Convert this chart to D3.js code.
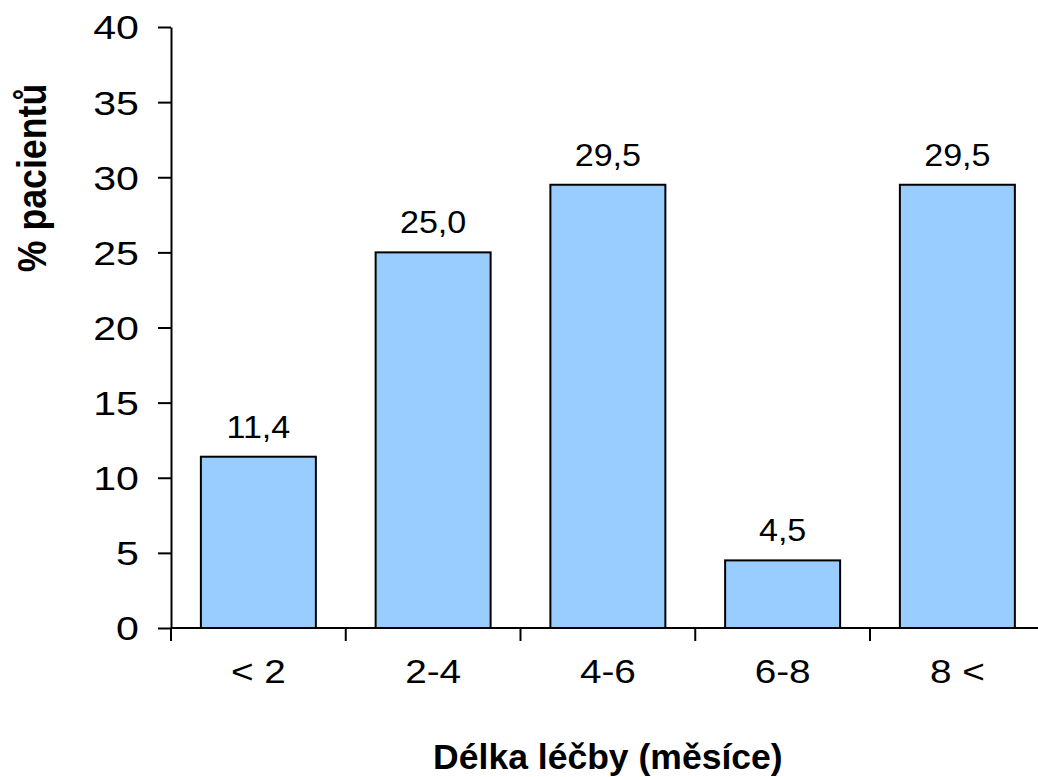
<!DOCTYPE html>
<html>
<head>
<meta charset="utf-8">
<script src="https://cdn.jsdelivr.net/npm/d3@7/dist/d3.min.js"></script>
<style>
  html, body { margin: 0; padding: 0; background: #fff; }
  svg { display: block; }
  text { font-family: "Liberation Sans", Arial, Helvetica, sans-serif; fill: #000; }
</style>
</head>
<body>
<svg id="chart" width="1038" height="777"></svg>
<script>
// Treatment duration groups and share of patients (%)
const categories = ["< 2", "2-4", "4-6", "6-8", "8 <"];
const values = [11.4, 25.0, 29.5, 4.5, 29.5];
const valueLabels = ["11,4", "25,0", "29,5", "4,5", "29,5"];
const yTicks = [0, 5, 10, 15, 20, 25, 30, 35, 40];

const svg = d3.select("#chart");
const plotLeft = 171, plotRight = 1044.75, plotTop = 27, plotBottom = 628;

// Text in this chart uses a slightly wide letterform
const wide = (px, py, sx) => `translate(${px},${py}) scale(${sx},1)`;

const x = d3.scaleBand()
  .domain(categories)
  .range([plotLeft, plotRight])
  .paddingInner(0.342)
  .paddingOuter(0.171);

const y = d3.scaleLinear().domain([0, 40]).range([plotBottom, plotTop]);

// Bars
svg.append("g")
  .selectAll("rect")
  .data(values)
  .join("rect")
  .attr("x", (d, i) => x(categories[i]))
  .attr("y", d => y(d))
  .attr("width", x.bandwidth())
  .attr("height", d => y(0) - y(d))
  .attr("fill", "#99CCFF")
  .attr("stroke", "#000")
  .attr("stroke-width", 2);

// Value labels above bars
svg.append("g")
  .selectAll("text")
  .data(values)
  .join("text")
  .attr("transform", (d, i) => wide(x(categories[i]) + x.bandwidth() / 2, y(d) - 19, 1.1))
  .attr("text-anchor", "middle")
  .attr("font-size", 31)
  .text((d, i) => valueLabels[i]);

// Y axis
const yAxis = svg.append("g")
  .attr("transform", `translate(${plotLeft},0)`)
  .call(d3.axisLeft(y).tickValues(yTicks).tickSize(13).tickSizeOuter(0).tickFormat(d3.format("d")));
yAxis.attr("font-family", null).attr("font-size", null);
yAxis.select(".domain").attr("stroke", "#000").attr("stroke-width", 2);
yAxis.selectAll(".tick line").attr("stroke", "#000").attr("stroke-width", 2);
yAxis.selectAll(".tick text")
  .attr("x", null)
  .attr("dy", "0.35em")
  .attr("font-size", 34)
  .attr("transform", wide(-32, 0, 1.21));

// X axis with ticks at category boundaries
const xAxisG = svg.append("g").attr("transform", `translate(0,${plotBottom})`);
xAxisG.append("line")
  .attr("x1", plotLeft).attr("x2", plotRight)
  .attr("stroke", "#000").attr("stroke-width", 2);
xAxisG.selectAll("line.tick")
  .data(d3.range(categories.length + 1))
  .join("line")
  .attr("class", "tick")
  .attr("x1", i => plotLeft + i * x.step())
  .attr("x2", i => plotLeft + i * x.step())
  .attr("y1", 0).attr("y2", 13)
  .attr("stroke", "#000").attr("stroke-width", 2);
xAxisG.selectAll("text")
  .data(categories)
  .join("text")
  .attr("transform", d => wide(x(d) + x.bandwidth() / 2, 55, 1.14))
  .attr("text-anchor", "middle")
  .attr("font-size", 34)
  .text(d => d);

// Axis titles
svg.append("text")
  .attr("transform", wide((plotLeft + plotRight) / 2, 769, 1.03))
  .attr("text-anchor", "middle")
  .attr("font-size", 34.5)
  .attr("font-weight", "bold")
  .text("Délka léčby (měsíce)");

svg.append("text")
  .attr("transform", "translate(46,178) rotate(-90) scale(1.05,1.2)")
  .attr("text-anchor", "middle")
  .attr("font-size", 34)
  .attr("font-weight", "bold")
  .text("% pacientů");
</script>
</body>
</html>
